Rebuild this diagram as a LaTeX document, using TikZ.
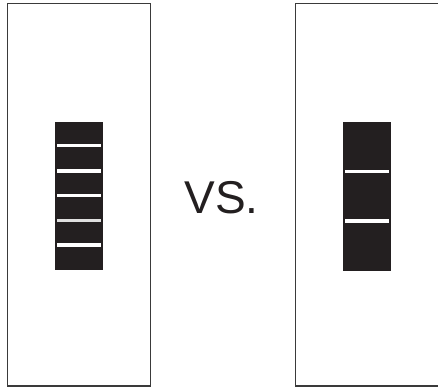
\documentclass[tikz,border=0pt]{standalone}
\usepackage{fontspec}
\setmainfont{Liberation Sans}
\usepackage{tikz}
\usetikzlibrary{calc, positioning}

\definecolor{gelblack}{HTML}{231F20}
\definecolor{framegray}{HTML}{3A3A3A}

\tikzset{
  frame/.style={draw=framegray, line width=1.3pt},
  lane/.style={fill=gelblack, draw=none, minimum width=48pt, minimum height=148pt, inner sep=0pt},
  band/.style={draw=white, line width=3.2pt},
  faintband/.style={draw=white!75!gray, line width=3.2pt}
}

\begin{document}
\begin{tikzpicture}[x=1pt, y=1pt]
  \useasboundingbox (0,0) rectangle (438,389);

  % Sample frames
  \draw[frame] (7.5,3) rectangle (150.5,385.5);
  \draw[frame] (440,385.5) -- (295.5,385.5) -- (295.5,3) -- (440,3);

  % Gel lanes
  \node[lane] (laneL) at (79,193.5) {};
  \node[lane, minimum height=149pt] (laneR) at (367,192.5) {};

  % Bands, left lane (five)
  \foreach \y/\s in {243.3/band, 218/band, 193.3/band, 168.7/faintband, 144/band}
    \draw[\s] ($(laneL.west|-0,\y)+(2.5,0)$) -- ($(laneL.east|-0,\y)+(-2.5,0)$);

  % Bands, right lane (two)
  \foreach \y in {217.3, 168}
    \draw[band] ($(laneR.west|-0,\y)+(2.5,0)$) -- ($(laneR.east|-0,\y)+(-2.5,0)$);

  % Comparison label
  \node[anchor=base, inner sep=0pt, font=\fontsize{46}{46}\selectfont, text=gelblack] (vs) at (221.5,175.7) {VS.};
\end{tikzpicture}
\end{document}
